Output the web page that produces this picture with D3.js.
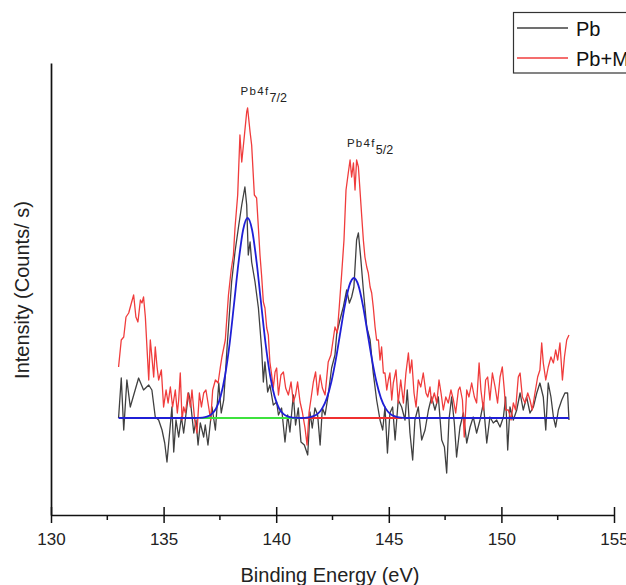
<!DOCTYPE html>
<html><head><meta charset="utf-8">
<script src="https://cdn.jsdelivr.net/npm/d3@7"></script>
<style>html,body{margin:0;padding:0;background:#fff;overflow:hidden}svg{display:block}</style>
</head><body>
<script>
// ---- data (binding energy eV, intensity counts/s) ----
const xTicks = [130, 135, 140, 145, 150, 155];
const xMinorTicks = [132.5, 137.5, 142.5, 147.5, 152.5];
const seriesNames = ["Pb", "Pb+M"];
const pb = [
[133.00,970],[133.12,1370],[133.23,850],[133.37,1350],[133.52,1080],[133.89,1370],[134.11,1250],[134.34,1300],[134.48,1250],[134.63,980],
[134.78,950],[134.93,850],[135.05,720],[135.15,530],[135.25,780],[135.37,1080],[135.45,630],[135.55,950],[135.67,780],[135.79,980],
[135.89,820],[136.11,1220],[136.20,1120],[136.34,820],[136.44,950],[136.53,700],[136.63,920],[136.78,780],[136.85,900],[136.97,700],
[137.15,1080],[137.30,850],[137.45,1320],[137.56,1020],[137.67,1150],[137.82,1680],[138.02,2330],[138.17,2630],[138.32,2870],[138.47,3100],
[138.61,3280],[138.69,3100],[138.76,2600],[138.84,2730],[138.91,2530],[139.06,2330],[139.21,2070],[139.35,1670],[139.43,1330],[139.50,1530],
[139.62,1230],[139.72,1300],[139.87,1100],[140.02,1130],[140.10,1000],[140.24,1070],[140.39,730],[140.51,1000],[140.61,830],[140.76,1200],
[140.86,900],[140.98,1070],[141.10,730],[141.25,700],[141.40,600],[141.50,1030],[141.60,870],[141.72,1070],[141.84,1000],[141.95,700],
[142.05,1070],[142.17,1000],[142.31,1200],[142.46,1470],[142.61,1600],[142.69,1820],[142.83,1950],[142.98,2080],[143.13,2250],[143.25,2120],
[143.35,2180],[143.45,2280],[143.57,2750],[143.65,2820],[143.75,2580],[143.87,2250],[144.02,1880],[144.17,1750],[144.31,1420],[144.46,1150],
[144.61,950],[144.73,850],[144.83,1080],[144.94,620],[145.05,1020],[145.17,1080],[145.28,750],[145.42,1150],[145.57,1080],[145.72,950],
[145.82,1250],[145.94,820],[146.06,550],[146.16,950],[146.31,1080],[146.46,750],[146.61,850],[146.76,1050],[146.90,1180],[147.05,1050],
[147.20,1180],[147.35,750],[147.47,680],[147.57,420],[147.67,950],[147.79,1180],[147.91,920],[148.01,580],[148.16,880],[148.31,1020],
[148.46,720],[148.61,880],[148.75,980],[148.90,820],[149.05,950],[149.20,1120],[149.35,720],[149.49,980],[149.64,920],[149.79,950],
[149.94,880],[150.09,980],[150.19,1180],[150.28,650],[150.38,1080],[150.53,950],[150.68,1050],[150.83,1220],[150.97,1050],[151.12,1180],
[151.27,1020],[151.42,1080],[151.57,1220],[151.71,1320],[151.86,1180],[151.97,850],[152.08,1320],[152.20,1180],[152.31,980],[152.41,880],
[152.53,1050],[152.68,1150],[152.82,1220],[152.94,1220],[153.00,950]
];
const pbM = [
[133.00,1480],[133.12,1750],[133.23,1780],[133.33,1980],[133.45,2020],[133.57,2120],[133.67,2200],[133.77,1980],[133.86,1930],[133.97,2150],
[134.04,2120],[134.11,2180],[134.19,1980],[134.26,1680],[134.34,1350],[134.41,1750],[134.48,1580],[134.56,1380],[134.63,1680],[134.71,1480],
[134.78,1350],[134.90,1450],[135.00,1080],[135.11,1250],[135.20,1120],[135.30,1280],[135.40,1080],[135.52,1250],[135.61,1020],[135.67,1150],
[135.74,1420],[135.82,950],[135.89,1080],[135.97,1020],[136.08,1220],[136.19,1080],[136.26,1250],[136.38,950],[136.48,820],[136.59,1220],
[136.68,1080],[136.78,1220],[136.88,1250],[137.00,1080],[137.09,950],[137.18,1250],[137.30,1350],[137.42,1320],[137.52,1480],[137.59,1580],
[137.74,1750],[137.88,2200],[138.00,2450],[138.10,2600],[138.17,2870],[138.29,3200],[138.39,3800],[138.47,3530],[138.59,3800],[138.69,4030],
[138.73,4070],[138.84,3830],[138.91,3700],[139.03,3200],[139.13,3170],[139.21,2870],[139.28,2600],[139.35,2400],[139.43,2130],[139.50,2070],
[139.58,1870],[139.65,1800],[139.72,1530],[139.80,1400],[139.87,1270],[139.95,1430],[140.02,1470],[140.10,1200],[140.21,1400],[140.32,1430],
[140.42,1270],[140.54,1200],[140.66,1330],[140.76,1130],[140.86,1200],[140.95,1330],[141.06,1130],[141.16,1030],[141.28,870],[141.37,700],
[141.46,1030],[141.55,1170],[141.65,1330],[141.75,1430],[141.84,1200],[141.95,1400],[142.05,1270],[142.17,1200],[142.31,1530],[142.43,1600],
[142.54,1770],[142.61,1880],[142.71,1820],[142.80,2080],[142.91,2420],[143.01,2750],[143.10,3250],[143.20,3420],[143.28,3550],[143.35,3380],
[143.43,3520],[143.50,3250],[143.57,3550],[143.65,3480],[143.72,3250],[143.80,2980],[143.87,2750],[143.94,2580],[144.02,2480],[144.09,2420],
[144.17,2280],[144.24,2220],[144.31,2080],[144.39,1880],[144.46,1750],[144.54,1750],[144.61,1550],[144.68,1680],[144.76,1420],[144.83,1420],
[144.91,1250],[144.98,1350],[145.05,1420],[145.13,1150],[145.20,1320],[145.32,1450],[145.42,1120],[145.53,1350],[145.65,1120],[145.76,1420],
[145.87,1620],[145.94,1420],[146.02,1550],[146.12,1220],[146.21,1080],[146.31,1350],[146.42,1280],[146.53,1420],[146.65,1220],[146.73,1180],
[146.83,1280],[146.90,1120],[147.02,1220],[147.13,1120],[147.23,1350],[147.32,1220],[147.42,1050],[147.53,1180],[147.64,1120],[147.76,1250],
[147.87,1150],[147.97,1020],[148.09,1250],[148.16,1280],[148.27,1150],[148.35,780],[148.46,1250],[148.56,1180],[148.68,1320],[148.80,1180],
[148.90,1120],[149.01,1520],[149.09,1250],[149.20,1050],[149.30,1350],[149.39,1380],[149.49,1150],[149.60,1420],[149.72,1280],[149.83,1120],
[149.94,1380],[150.04,1480],[150.13,1250],[150.19,1050],[150.31,1050],[150.43,950],[150.53,1120],[150.63,1050],[150.75,1380],[150.83,1420],
[150.93,1180],[151.05,1120],[151.17,1220],[151.27,1150],[151.37,1050],[151.49,1220],[151.61,1380],[151.71,1450],[151.79,1720],[151.86,1520],
[151.97,1350],[152.08,1480],[152.20,1580],[152.31,1520],[152.41,1650],[152.50,1550],[152.60,1720],[152.71,1350],[152.80,1580],[152.90,1750],
[153.00,1800]
];
// fitted envelope (blue)
const fit = [
[133.00,970],[136.40,970],[136.73,974],[136.93,983],[137.13,1008],[137.33,1065],[137.53,1185],[137.73,1395],[137.93,1710],[138.13,2115],
[138.33,2530],[138.53,2850],[138.73,2970],[138.93,2850],[139.13,2530],[139.33,2115],[139.53,1710],[139.73,1395],[139.93,1185],[140.13,1065],
[140.33,1008],[140.53,983],[140.73,974],[141.10,970],[141.45,976],[141.65,988],[141.85,1014],[142.05,1069],[142.25,1169],[142.45,1332],
[142.65,1558],[142.85,1830],[143.05,2097],[143.25,2296],[143.45,2370],[143.65,2296],[143.85,2097],[144.05,1830],[144.25,1558],[144.45,1332],
[144.65,1169],[144.85,1069],[145.05,1014],[145.25,988],[145.45,976],[145.80,970],[153.00,970]
];
const baseline72 = [[136.6,970],[141.1,970]];
const baseline52 = [[141.1,970],[145.6,970]];
const peakLabels = [
  {main: "Pb4f", sub: "7/2", e: 138.73, v: 4070},
  {main: "Pb4f", sub: "5/2", e: 143.45, v: 3550}
];

// ---- drawing ----
const W = 626, H = 585;
const svg = d3.select("body").append("svg").attr("width", W).attr("height", H);
svg.append("rect").attr("width", W).attr("height", H).attr("fill", "#fff");

const x = d3.scaleLinear().domain([130, 155]).range([51, 614]);
const y = d3.scaleLinear().domain([0, 4520]).range([515, 63]);
const line = d3.line().x(d => x(d[0])).y(d => y(d[1]));
const font = "Liberation Sans, Arial, sans-serif";

svg.append("path").datum(pb).attr("d", line).attr("fill", "none")
  .attr("stroke", "#404040").attr("stroke-width", 1.3).attr("stroke-linejoin", "round");
svg.append("path").datum(pbM).attr("d", line).attr("fill", "none")
  .attr("stroke", "#f03c3c").attr("stroke-width", 1.3).attr("stroke-linejoin", "round");
svg.append("path").datum(baseline72).attr("d", line).attr("fill", "none")
  .attr("stroke", "#3ee23e").attr("stroke-width", 1.8);
svg.append("path").datum(baseline52).attr("d", line).attr("fill", "none")
  .attr("stroke", "#f03030").attr("stroke-width", 1.8);
svg.append("path").datum(fit).attr("d", line.curve(d3.curveMonotoneX)).attr("fill", "none")
  .attr("stroke", "#1f1fd6").attr("stroke-width", 1.8);

// axes
const xAxis = svg.append("g").attr("transform", `translate(0,${y(0)})`)
  .call(d3.axisBottom(x).tickValues(xTicks).tickSizeInner(8).tickSizeOuter(0).tickPadding(10).tickFormat(d3.format("d")));
xAxis.select(".domain").attr("stroke", "#111").attr("stroke-width", 1.7);
xAxis.selectAll(".tick line").attr("y1", -8).attr("y2", 8).attr("stroke", "#111").attr("stroke-width", 1.5);
xAxis.selectAll(".tick text").attr("font-family", font).attr("font-size", 17).attr("fill", "#222");
xAxis.selectAll(".minor").data(xMinorTicks).enter().append("line")
  .attr("x1", d => x(d)).attr("x2", d => x(d)).attr("y1", 0).attr("y2", 5)
  .attr("stroke", "#111").attr("stroke-width", 1.5);

const yAxis = svg.append("g").attr("transform", `translate(${x(130)},0)`)
  .call(d3.axisLeft(y).tickValues([]).tickSizeOuter(0));
yAxis.select(".domain").attr("stroke", "#111").attr("stroke-width", 1.7);

svg.append("text").attr("x", 330).attr("y", 582).attr("text-anchor", "middle")
  .attr("font-family", font).attr("font-size", 20).attr("fill", "#222").text("Binding Energy (eV)");
svg.append("text").attr("transform", "translate(29,290) rotate(-90)").attr("text-anchor", "middle")
  .attr("font-family", font).attr("font-size", 20).attr("fill", "#222").text("Intensity (Counts/ s)");

// peak labels
peakLabels.forEach(p => {
  const t = svg.append("text").attr("x", x(p.e) - 7).attr("y", y(p.v) - 13)
    .attr("font-family", font).attr("font-size", 11.5).attr("fill", "#222");
  t.append("tspan").attr("letter-spacing", 1.3).text(p.main);
  t.append("tspan").attr("dy", 7).attr("font-size", 12.5).text(p.sub);
});

// legend
const lg = svg.append("g");
lg.append("rect").attr("x", 513.5).attr("y", 12.5).attr("width", 130).attr("height", 60.5)
  .attr("fill", "#fff").attr("stroke", "#333").attr("stroke-width", 1.2);
const lgColors = ["#404040", "#f03c3c"];
seriesNames.forEach((n, i) => {
  const yy = 28 + i * 30;
  lg.append("line").attr("x1", 517).attr("x2", 568).attr("y1", yy).attr("y2", yy)
    .attr("stroke", lgColors[i]).attr("stroke-width", 1.3);
  lg.append("text").attr("x", 576).attr("y", yy + 8).attr("font-family", font)
    .attr("font-size", 20).attr("fill", "#111").text(n);
});
</script>
</body></html>
